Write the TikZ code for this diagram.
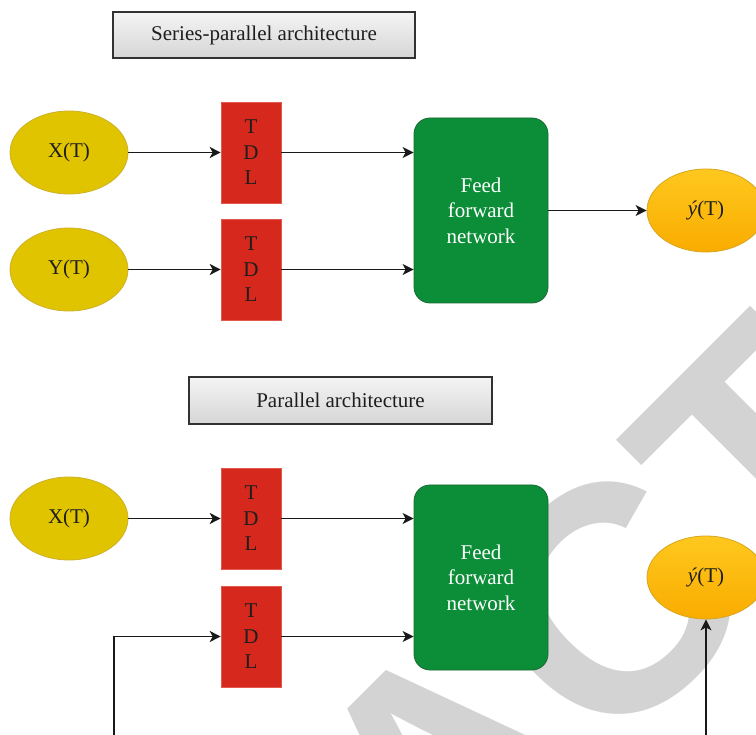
\documentclass[tikz,border=0pt]{standalone}
\usepackage{fontspec}
\setmainfont{Liberation Serif}
\newfontfamily\wmfont{Liberation Sans}
\usetikzlibrary{arrows.meta,shapes.geometric}
\definecolor{wmgray}{RGB}{211,211,211}
\definecolor{txt}{RGB}{30,30,30}
\definecolor{yel}{RGB}{224,196,0}
\definecolor{yelb}{RGB}{205,175,40}
\definecolor{ortop}{RGB}{254,200,30}
\definecolor{orbot}{RGB}{250,172,0}
\definecolor{orb}{RGB}{215,165,30}
\definecolor{tdlred}{RGB}{214,40,28}
\definecolor{redb}{RGB}{225,90,80}
\definecolor{grn}{RGB}{12,142,56}
\definecolor{grnb}{RGB}{25,105,50}
\definecolor{ttop}{RGB}{244,244,244}
\definecolor{tbot}{RGB}{214,214,214}
\definecolor{titb}{RGB}{50,50,50}
\definecolor{arr}{RGB}{25,25,25}
\begin{document}
\begin{tikzpicture}[x=1pt,y=-1pt,
  every node/.style={font=\fontsize{21}{25.5}\selectfont, text=txt},
  inp/.style={ellipse, draw=yelb, fill=yel, line width=0.8pt, minimum width=118pt, minimum height=83pt, inner sep=0pt},
  outp/.style={ellipse, draw=orb, top color=ortop, bottom color=orbot, line width=0.8pt, minimum width=118pt, minimum height=83pt, inner sep=0pt},
  tdl/.style={rectangle, draw=redb, fill=tdlred, line width=0.6pt, minimum width=60pt, minimum height=101pt, inner sep=0pt, align=center},
  ffn/.style={rectangle, rounded corners=16pt, draw=grnb, fill=grn, line width=0.8pt, minimum width=134pt, minimum height=185pt, inner sep=0pt, align=center, text=white},
  titlebox/.style={rectangle, draw=titb, line width=1.2pt, top color=ttop, bottom color=tbot, minimum width=302pt, minimum height=46pt, inner sep=0pt},
  conn/.style={draw=arr, line width=1.3pt, -{Stealth[length=11pt,width=11pt,inset=3pt]}}
]
\useasboundingbox (0,0) rectangle (756,735);
\clip (0,0) rectangle (756,735);
% watermark
\node[rotate=45, anchor=base west, inner sep=0pt, text=wmgray, font=\wmfont\bfseries\fontsize{322}{322}\selectfont] (wm) at (-178,1548) {RETRACTED};
% series-parallel
\node[titlebox] (t1) at (264,35) {Series-parallel architecture};
\node[inp] (x1) at (69,152.5) {X(T)};
\node[inp] (y1) at (69,269.5) {Y(T)};
\node[tdl] (d1) at (251,152.5) {T\\D\\L};
\node[tdl] (d2) at (251,269.5) {T\\D\\L};
\node[ffn] (f1) at (481,210.5) {Feed\\forward\\network};
\node[outp] (o1) at (706,210.5) {{\itshape ý}(T)};
% parallel
\node[titlebox, minimum width=303pt, minimum height=47pt] (t2) at (340.5,400.5) {Parallel architecture};
\node[inp] (x2) at (69,518.5) {X(T)};
\node[tdl] (d3) at (251,518.5) {T\\D\\L};
\node[tdl] (d4) at (251,636.5) {T\\D\\L};
\node[ffn] (f2) at (481,577.5) {Feed\\forward\\network};
\node[outp] (o2) at (706,577.5) {{\itshape ý}(T)};
\coordinate (fbl) at (114,736);
\coordinate (fbr) at (706,736);
% connectors
\draw[conn] (x1) -- (d1);
\draw[conn] (d1.east) -- (d1.east -| f1.west);
\draw[conn] (y1) -- (d2);
\draw[conn] (d2.east) -- (d2.east -| f1.west);
\draw[conn] (f1) -- (o1);
\draw[conn] (x2) -- (d3);
\draw[conn] (d3.east) -- (d3.east -| f2.west);
\draw[conn] (fbl) |- (d4.west);
\draw[conn] (d4.east) -- (d4.east -| f2.west);
\draw[conn] (fbr) -- (o2.south);
\end{tikzpicture}
\end{document}
